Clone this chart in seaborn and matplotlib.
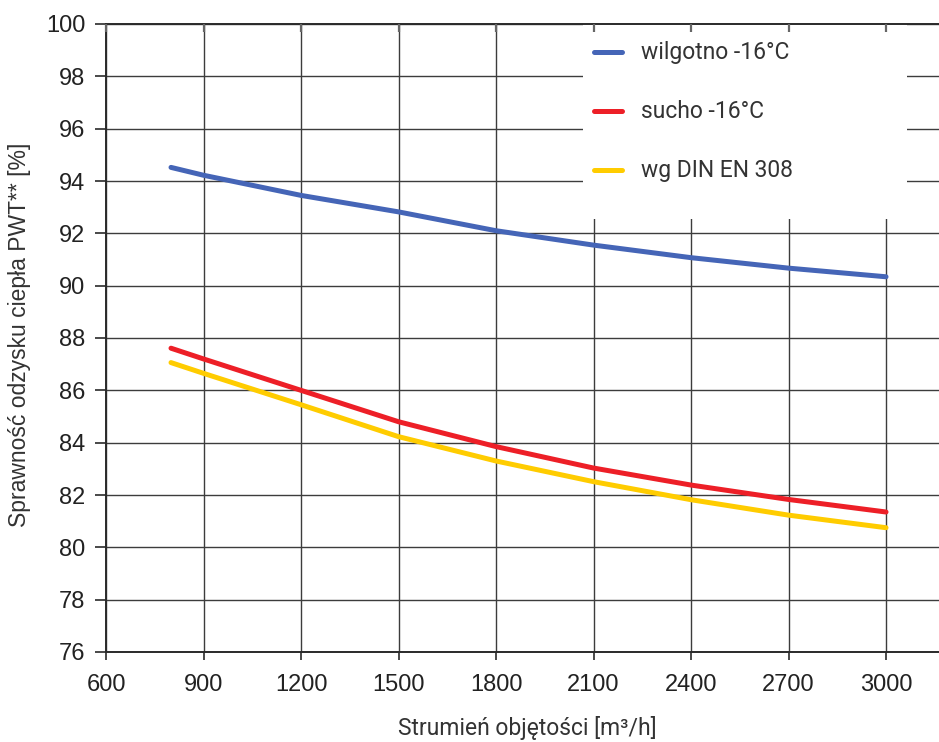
import matplotlib
matplotlib.use("Agg")
import matplotlib.pyplot as plt
from matplotlib.patches import Rectangle
import seaborn as sns
import pandas as pd

# Volume flow [m³/h]
flow = [800, 900, 1200, 1500, 1800, 2100, 2400, 2700, 3000]

# Heat recovery efficiency [%]
wet_m16 = [94.52, 94.22, 93.45, 92.82, 92.10, 91.55, 91.07, 90.67, 90.34]
dry_m16 = [87.61, 87.20, 86.00, 84.80, 83.85, 83.03, 82.38, 81.83, 81.35]
din_en308 = [87.06, 86.65, 85.45, 84.23, 83.30, 82.51, 81.82, 81.23, 80.75]

series_names = ["wilgotno -16°C", "sucho -16°C", "wg DIN EN 308"]
series_colors = ["#4565B7", "#ED1F27", "#FFCC00"]

x_ticks = [600, 900, 1200, 1500, 1800, 2100, 2400, 2700, 3000]
y_ticks = [76, 78, 80, 82, 84, 86, 88, 90, 92, 94, 96, 98, 100]

df = pd.concat([
    pd.DataFrame({"flow": flow, "eff": vals, "series": name})
    for name, vals in zip(series_names, [wet_m16, dry_m16, din_en308])
], ignore_index=True)

sns.set_theme(style="white")
plt.rcParams["font.family"] = ["Liberation Sans", "DejaVu Sans"]

fig = plt.figure(figsize=(9.39, 7.42), dpi=100)
ax = fig.add_axes([106 / 939, 1 - 652 / 742, 833 / 939, 628 / 742])

sns.lineplot(data=df, x="flow", y="eff", hue="series", hue_order=series_names,
             palette=series_colors, linewidth=3.6, ax=ax, legend=False,
             solid_capstyle="round", zorder=3)

xlim = (600, 3163)
ax.set_xlim(*xlim)
ax.set_ylim(76, 100)
ax.set_xticks(x_ticks)
ax.set_yticks(y_ticks)

grid_color = "#3c3c3c"
ax.set_axisbelow(True)
ax.grid(True, color=grid_color, linewidth=1.0)

for side in ["left", "bottom", "top"]:
    ax.spines[side].set_visible(True)
    ax.spines[side].set_color("#2a2a2a")
    ax.spines[side].set_linewidth(1.4)
ax.spines["right"].set_visible(False)

ax.tick_params(axis="both", which="major", labelsize=17, colors="#2a2a2a",
               labelcolor="#222222")
ax.tick_params(axis="y", direction="out", length=8, width=1.2, pad=7, left=True)
ax.tick_params(axis="x", direction="out", length=6, width=1.2, pad=10, bottom=True)

# short inward ticks along the top edge
top = ax.twiny()
top.set_xlim(*xlim)
top.set_xticks(x_ticks)
top.tick_params(axis="x", direction="in", length=6, width=1.6, colors="#666666",
                labeltop=False, top=True)
for s in top.spines.values():
    s.set_visible(False)

# white panel behind the legend entries
ax.add_patch(Rectangle(((583 - 106) / 833, (652 - 219) / 628), (907 - 583) / 833,
                       (219 - 24) / 628, transform=ax.transAxes,
                       facecolor="white", edgecolor="none", zorder=1))

label_font = ["Roboto", "DejaVu Sans"]
row_y = [52, 111, 170]
for name, color, py in zip(series_names, series_colors, row_y):
    ya = 1 - (py - 24) / 628
    ax.plot([(594 - 106) / 833, (622 - 106) / 833], [ya, ya], transform=ax.transAxes,
            color=color, linewidth=3.6, solid_capstyle="round", zorder=4, clip_on=False)
    ax.text((641 - 106) / 833, ya, name, transform=ax.transAxes, fontsize=16.5,
            family=label_font, color="#333333", va="center", ha="left", zorder=4)

ax.set_xlabel("Strumień objętości [m³/h]", fontsize=16.5, family=label_font,
              color="#333333")
ax.set_ylabel("Sprawność odzysku ciepła PWT** [%]", fontsize=16.5, color="#333333")
ax.xaxis.set_label_coords((527 - 106) / 833, (652 - 716) / 628)
ax.yaxis.set_label_coords((31 - 106) / 833, (652 - 335) / 628)

fig.savefig("out.png", dpi=100)
